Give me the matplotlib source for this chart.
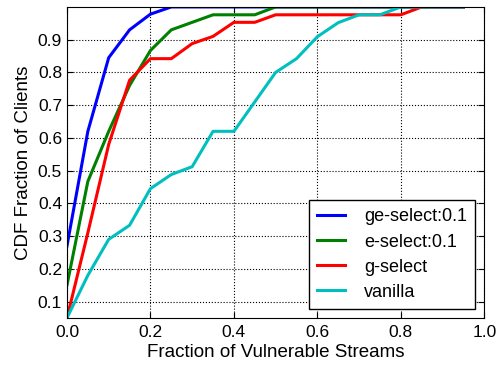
import numpy as np
import matplotlib
matplotlib.use('Agg')
import matplotlib.pyplot as plt

plt.rcParams['font.family'] = ['Liberation Sans', 'DejaVu Sans']

x = np.arange(0, 20) * 0.05

ge_select = [0.27, 0.62, 0.845, 0.93, 0.978, 1.0, 1.0, 1.0, 1.0, 1.0,
             1.0, 1.0, 1.0, 1.0, 1.0, 1.0, 1.0, 1.0, 1.0, 1.0]
e_select = [0.15, 0.467, 0.62, 0.76, 0.867, 0.93, 0.953, 0.976, 0.976, 0.976,
            1.0, 1.0, 1.0, 1.0, 1.0, 1.0, 1.0, 1.0, 1.0, 1.0]
g_select = [0.05, 0.31, 0.58, 0.776, 0.842, 0.842, 0.888, 0.91, 0.953, 0.953,
            0.976, 0.976, 0.976, 0.976, 0.976, 0.976, 0.976, 1.0, 1.0, 1.0]
vanilla = [0.05, 0.18, 0.29, 0.333, 0.445, 0.488, 0.512, 0.62, 0.62, 0.71,
           0.80, 0.842, 0.909, 0.952, 0.976, 0.976, 1.0, 1.0, 1.0, 1.0]

fig = plt.figure(figsize=(4.98, 3.65), dpi=100)
ax = fig.add_axes([0.1345, 0.129, 0.838, 0.852])

ax.plot(x, ge_select, color='b', lw=2.2, label='ge-select:0.1')
ax.plot(x, e_select, color='g', lw=2.2, label='e-select:0.1')
ax.plot(x, g_select, color='r', lw=2.2, label='g-select')
ax.plot(x, vanilla, color='c', lw=2.2, label='vanilla')

ax.set_xlim(0, 1.0)
ax.set_ylim(0.05, 1.0)
ax.set_xticks(np.arange(0, 1.01, 0.2))
ax.set_yticks(np.arange(0.1, 0.95, 0.1))
ax.grid(True, color='black', linestyle=':', linewidth=0.8)
ax.tick_params(labelsize=12.5, direction='in', length=4, top=True, right=True)
ax.tick_params(axis='x', pad=5)
ax.set_xlabel('Fraction of Vulnerable Streams', fontsize=13.5, labelpad=3)
ax.set_ylabel('CDF Fraction of Clients', fontsize=13.5, labelpad=4)

leg = ax.legend(loc='lower right', fontsize=13, fancybox=False, framealpha=1,
                handlelength=1.55, borderpad=0.45, labelspacing=0.45, handletextpad=1.05,
                borderaxespad=0.5)
leg.get_frame().set_edgecolor('black')

fig.savefig('out.png', dpi=100)
